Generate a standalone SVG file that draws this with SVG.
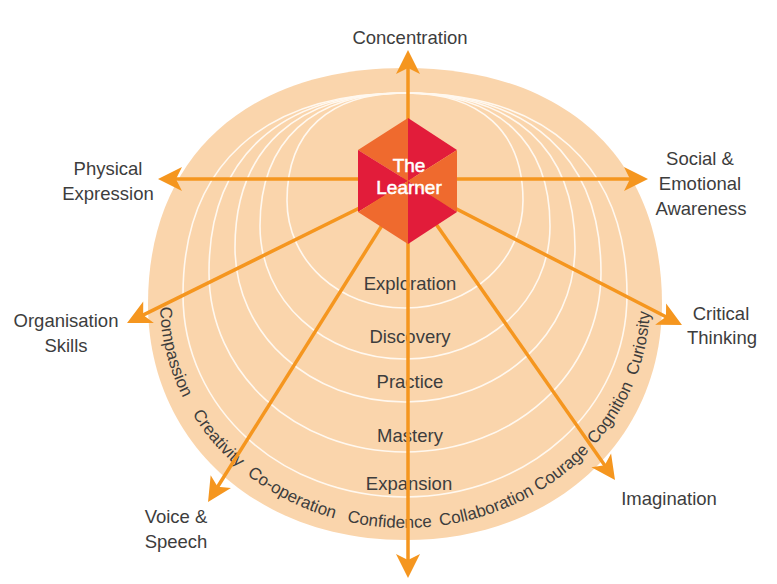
<svg xmlns="http://www.w3.org/2000/svg" width="777" height="584" viewBox="0 0 777 584">
<defs>
<style>
.lbl{font-family:"Liberation Sans",Arial,Helvetica,sans-serif;font-size:18.5px;fill:#3d3d3d;text-anchor:middle}
.stage{font-family:"Liberation Sans",Arial,Helvetica,sans-serif;font-size:18.5px;fill:#3d3d3d;text-anchor:middle}
.band{font-family:"Liberation Sans",Arial,Helvetica,sans-serif;font-size:17px;fill:#3d3d3d}
.arc{fill:none;stroke:#fff8ef;stroke-width:1.6}
.con{fill:none;stroke:#f5961f;stroke-width:3.5;marker-end:url(#ah)}
.hexT{font-family:"Liberation Sans",Arial,Helvetica,sans-serif;font-size:19px;fill:#ffffff;stroke:#ffffff;stroke-width:0.5;text-anchor:middle}
</style>
<marker id="ah" viewBox="-16 -13 28 26" refX="0" refY="0" markerWidth="28" markerHeight="26" markerUnits="userSpaceOnUse" orient="auto">
<path d="M11,0 L-13,-12 L-7,0 L-13,12 Z" fill="#f5961f"/>
</marker>
<path id="bandPath" d="M405,76 A245,226 0 0,0 160,302 A245,226 0 0,0 405,528 A245,226 0 0,0 650,302 A245,226 0 0,0 405,76"/>
</defs>

<g id="background">
<path d="M405,68 C245.7,68 148,157.7 148,304 C148,440.9 255.9,540 405,540 C554.1,540 662,440.9 662,304 C662,157.7 564.3,68 405,68Z" fill="#fad5ac"/>
</g>

<g id="stages">
<path class="arc" d="M405,93 C262.9,93 183,165.7 183,295 C183,408.1 280.7,497 405,497 C529.3,497 627,408.1 627,295 C627,165.7 547.1,93 405,93Z"/>
<path class="arc" d="M405,93 C279.6,93 209,157.6 209,272.5 C209,373 295.2,452 405,452 C514.8,452 601,373 601,272.5 C601,157.6 530.4,93 405,93Z"/>
<path class="arc" d="M405,93 C296.2,93 235,148.6 235,247.5 C235,334 309.8,402 405,402 C500.2,402 575,334 575,247.5 C575,148.6 513.8,93 405,93Z"/>
<path class="arc" d="M405,93 C312.2,93 260,140.9 260,226 C260,300.5 323.8,359 405,359 C486.2,359 550,300.5 550,226 C550,140.9 497.8,93 405,93Z"/>
<path class="arc" d="M405,93 C329.5,93 287,131.7 287,200.5 C287,260.7 338.9,308 405,308 C471.1,308 523,260.7 523,200.5 C523,131.7 480.5,93 405,93Z"/>
<text class="stage" x="410" y="290">Exploration</text>
<text class="stage" x="410" y="343">Discovery</text>
<text class="stage" x="410" y="388">Practice</text>
<text class="stage" x="410" y="442">Mastery</text>
<text class="stage" x="409" y="490">Expansion</text>
</g>

<g id="values">
<text class="band"><textPath href="#bandPath" startOffset="375">Compassion</textPath></text>
<text class="band"><textPath href="#bandPath" startOffset="488">Creativity</textPath></text>
<text class="band"><textPath href="#bandPath" startOffset="570">Co-operation</textPath></text>
<text class="band"><textPath href="#bandPath" startOffset="681">Confidence</textPath></text>
<text class="band"><textPath href="#bandPath" startOffset="775">Collaboration</textPath></text>
<text class="band"><textPath href="#bandPath" startOffset="880">Courage</textPath></text>
<text class="band"><textPath href="#bandPath" startOffset="953">Cognition</textPath></text>
<text class="band"><textPath href="#bandPath" startOffset="1034">Curiosity</textPath></text>
</g>

<g id="connectors">
<line class="con" x1="408" y1="181" x2="408" y2="61"/>
<line class="con" x1="408" y1="181" x2="408" y2="567"/>
<line class="con" x1="408" y1="179" x2="169" y2="179"/>
<line class="con" x1="408" y1="179" x2="637" y2="179"/>
<line class="con" x1="408" y1="184" x2="136.9" y2="318.1"/>
<line class="con" x1="408" y1="184" x2="213.9" y2="492.7"/>
<line class="con" x1="408" y1="184" x2="672.2" y2="320"/>
<line class="con" x1="408" y1="184" x2="608.7" y2="471"/>
</g>

<g id="learner">
<polygon points="408,181 408,118 358,150" fill="#ef6a2e"/>
<polygon points="408,181 408,118 457,150" fill="#e21c3a"/>
<polygon points="408,181 358,150 358,212" fill="#e21c3a"/>
<polygon points="408,181 457,150 457,212" fill="#ef6a2e"/>
<polygon points="408,181 358,212 408,244" fill="#ef6a2e"/>
<polygon points="408,181 457,212 408,244" fill="#e21c3a"/>
<text class="hexT" x="409" y="172">The</text>
<text class="hexT" x="409" y="194">Learner</text>
</g>

<g id="concentration"><text class="lbl" x="410" y="44">Concentration</text></g>
<g id="physical-expression"><text class="lbl" x="108" y="175">Physical</text><text class="lbl" x="108" y="200">Expression</text></g>
<g id="social-emotional"><text class="lbl" x="700" y="165">Social &amp;</text><text class="lbl" x="700" y="190">Emotional</text><text class="lbl" x="701" y="215">Awareness</text></g>
<g id="organisation"><text class="lbl" x="66" y="327">Organisation</text><text class="lbl" x="66" y="352">Skills</text></g>
<g id="critical-thinking"><text class="lbl" x="721" y="320">Critical</text><text class="lbl" x="722" y="344">Thinking</text></g>
<g id="voice-speech"><text class="lbl" x="176" y="523">Voice &amp;</text><text class="lbl" x="176" y="548">Speech</text></g>
<g id="imagination"><text class="lbl" x="669" y="505">Imagination</text></g>
</svg>
